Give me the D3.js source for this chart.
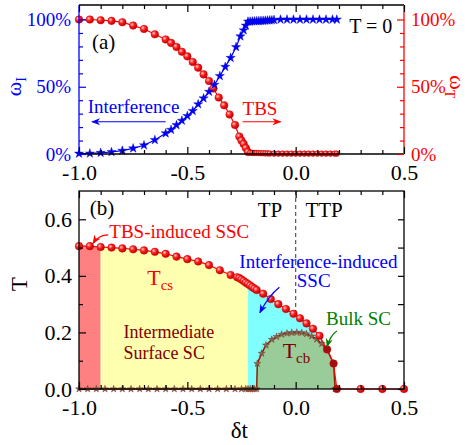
<!DOCTYPE html>
<html>
<head>
<meta charset="utf-8">
<title>Surface / bulk SC phase diagram</title>
<script src="https://d3js.org/d3.v7.min.js"></script>
<style>
body { margin: 0; background: #fff; }
svg text { font-family: "Liberation Serif", "Times New Roman", serif; }
</style>
</head>
<body>
<div id="chart"></div>
<script>
//----------------------------- DATA -----------------------------//
// panel (a): weights at T = 0
const wTdt = [-1.0,-0.95,-0.9,-0.85,-0.8,-0.75,-0.7,-0.65,-0.6,-0.575,-0.55,-0.525,-0.5,-0.475,-0.45,-0.425,-0.4,-0.38,-0.355,-0.33,-0.305,-0.28,-0.26,-0.25,-0.24,-0.23,-0.22,-0.21,-0.2,-0.19,-0.18,-0.17,-0.16,-0.15,-0.14,-0.13,-0.12,-0.1,-0.08,-0.06,-0.04,-0.02,0.0,0.02,0.04,0.06,0.08,0.1,0.12,0.14,0.16,0.18,0.19];
const wT   = [100,100,99.5,99,98,95.5,93,89,85.2,82.6,79.6,76,72.6,68.4,64.2,59.2,54.3,48.7,42,36.2,29.4,21.6,13,10,7.5,4.5,1.5,0.9,0.8,0.8,0.7,0.7,0.6,0.6,0.5,0.5,0.4,0.3,0.3,0.3,0.3,0.3,0.3,0.3,0.3,0.3,0.3,0.3,0.3,0.3,0.3,0.3,0.3];

const wIdt = [-1.0,-0.95,-0.9,-0.85,-0.8,-0.75,-0.7,-0.65,-0.6,-0.575,-0.55,-0.525,-0.5,-0.475,-0.45,-0.425,-0.4,-0.375,-0.35,-0.325,-0.3,-0.275,-0.255,-0.24,-0.23,-0.22,-0.21,-0.2,-0.19,-0.18,-0.17,-0.16,-0.15,-0.14,-0.13,-0.12,-0.11,-0.1,-0.07,-0.04,-0.01,0.02,0.05,0.08,0.11,0.14,0.17,0.19];
const wI   = [0.3,0.4,0.9,1.5,2.5,4.2,6.5,10.4,15.4,18,21.5,24.8,28.3,32,37,41.4,46.3,51.5,58,64.8,71.5,79.5,87.5,92,95.5,98.5,98.5,98.6,98.7,98.8,98.9,99,99.1,99.2,99.3,99.4,99.5,99.7,100,100,100,100,100,100,100,100,100,100];

// panel (b): critical temperatures
const tcsDt = [-1.0,-0.95,-0.9,-0.85,-0.8,-0.75,-0.7,-0.65,-0.6,-0.55,-0.5,-0.45,-0.4,-0.35,-0.3,-0.27,-0.26,-0.25,-0.24,-0.23,-0.22,-0.21,-0.2,-0.19,-0.18,-0.15,-0.115,-0.08,-0.045,-0.01,0.02,0.05,0.08,0.11,0.145,0.175,0.19,0.3,0.4,0.5];
const tcs   = [0.505,0.505,0.502,0.5,0.497,0.494,0.49,0.485,0.478,0.468,0.459,0.451,0.438,0.42,0.403,0.395,0.392,0.387,0.382,0.376,0.371,0.366,0.36,0.355,0.35,0.337,0.318,0.3,0.283,0.266,0.25,0.232,0.213,0.188,0.14,0.09,0,0,0,0];

const tcbDt = [-1.0,-0.96,-0.92,-0.88,-0.84,-0.8,-0.76,-0.72,-0.68,-0.64,-0.6,-0.56,-0.52,-0.48,-0.44,-0.4,-0.36,-0.32,-0.28,-0.25,-0.23,-0.22,-0.21,-0.2,-0.19,-0.18,-0.177,-0.157,-0.137,-0.11,-0.088,-0.065,-0.04,-0.018,0.005,0.028,0.05,0.074,0.097,0.12,0.145,0.175,0.182];
const tcb   = [0,0,0,0,0,0,0,0,0,0,0,0,0,0,0,0,0,0,0,0,0,0,0,0,0,0,0.09,0.126,0.155,0.175,0.185,0.193,0.197,0.199,0.2,0.199,0.195,0.187,0.176,0.16,0.14,0.09,0];

// shaded phase regions (δt boundaries)
const regionX0 = [-1.0, -0.9, -0.22];
const regionX1 = [-0.9, -0.22, 0.2];
const regionColor = ["#ff8080", "#ffffb0", "#80ffff"];

// ticks
const xMajor = [-1.0, -0.5, 0.0, 0.5];
const xMinor = [-0.9,-0.8,-0.7,-0.6,-0.4,-0.3,-0.2,-0.1,0.1,0.2,0.3,0.4];
const pctMajor = [0, 50, 100];
const pctMinor = [10,20,30,40,60,70,80,90];
const tMajor = [0.0, 0.2, 0.4, 0.6];
const tMinor = [0.1, 0.3, 0.5];

//----------------------------- SVG ------------------------------//
const width = 472, height = 445;
const svg = d3.select("#chart").append("svg")
    .attr("width", width).attr("height", height);

const defs = svg.append("defs");
const ball = defs.append("radialGradient").attr("id", "ball")
    .attr("cx", "35%").attr("cy", "35%").attr("r", "65%");
ball.append("stop").attr("offset", "0%").attr("stop-color", "#ffd0d0");
ball.append("stop").attr("offset", "45%").attr("stop-color", "#ff2020");
ball.append("stop").attr("offset", "100%").attr("stop-color", "#c00000");

["red", "blue", "green"].forEach(c => {
    defs.append("marker").attr("id", "arr-" + c)
        .attr("viewBox", "0 0 10 10").attr("refX", 9).attr("refY", 5)
        .attr("markerWidth", 9).attr("markerHeight", 9)
        .attr("markerUnits", "userSpaceOnUse")
        .attr("orient", "auto")
      .append("path").attr("d", "M0,1 L10,5 L0,9 L3,5 Z").attr("fill", c);
});

//---------------------------- SCALES ----------------------------//
const x = d3.scaleLinear().domain([-1.0, 0.5]).range([79, 404]);
const yA = d3.scaleLinear().domain([0, 110.8]).range([154, 5]);
const yB = d3.scaleLinear().domain([0, 0.7]).range([389, 191]);

const fmtX = d => d.toFixed(1);

function ticksX(g, y0, y1, color) {
    // bottom, labelled
    g.append("g").attr("transform", `translate(0,${y0})`)
        .call(d3.axisBottom(x).tickValues(xMajor).tickSizeInner(-7).tickSizeOuter(0)
              .tickPadding(10).tickFormat(fmtX))
        .call(a => a.select(".domain").remove())
        .call(a => a.selectAll("text").attr("font-size", 22).attr("fill", "#000").attr("font-family", null));
    g.append("g").attr("transform", `translate(0,${y0})`)
        .call(d3.axisBottom(x).tickValues(xMinor).tickSizeInner(-4).tickSizeOuter(0).tickFormat(""))
        .call(a => a.select(".domain").remove());
    // top, unlabelled
    g.append("g").attr("transform", `translate(0,${y1})`)
        .call(d3.axisTop(x).tickValues(xMajor).tickSizeInner(-7).tickSizeOuter(0).tickFormat(""))
        .call(a => a.select(".domain").remove());
    g.append("g").attr("transform", `translate(0,${y1})`)
        .call(d3.axisTop(x).tickValues(xMinor).tickSizeInner(-4).tickSizeOuter(0).tickFormat(""))
        .call(a => a.select(".domain").remove());
    g.selectAll(".tick line").attr("stroke", color).attr("stroke-width", 1.2);
}

//--------------------------- PANEL (b) --------------------------//
const gB = svg.append("g");
const tcsPts = tcsDt.map((d, i) => ({dt: d, T: tcs[i]}));
const tcbPts = tcbDt.map((d, i) => ({dt: d, T: tcb[i]}));

const areaB = d3.area().x(d => x(d.dt)).y0(yB(0)).y1(d => yB(d.T));

regionX0.forEach((x0, i) => {
    defs.append("clipPath").attr("id", "reg" + i)
      .append("rect")
        .attr("x", x(x0)).attr("y", yB(0.7))
        .attr("width", x(regionX1[i]) - x(x0)).attr("height", yB(0) - yB(0.7));
    gB.append("path").datum(tcsPts)
        .attr("clip-path", `url(#reg${i})`)
        .attr("fill", regionColor[i])
        .attr("d", areaB);
});

gB.append("path").datum(tcbPts.filter(d => d.dt >= -0.18))
    .attr("fill", "#99cc99")
    .attr("d", areaB);

// TP / TTP divider
gB.append("line")
    .attr("x1", x(0)).attr("x2", x(0))
    .attr("y1", yB(0.7)).attr("y2", yB(0.264))
    .attr("stroke", "#555").attr("stroke-width", 1.2).attr("stroke-dasharray", "4,3");

const lineB = d3.line().x(d => x(d.dt)).y(d => yB(d.T));

// Tcb
gB.append("path").datum(tcbPts)
    .attr("fill", "none").attr("stroke", "#8b2000").attr("stroke-width", 1.5)
    .attr("d", lineB);
gB.selectAll(".tcb").data(tcbPts).enter().append("path")
    .attr("class", "tcb")
    .attr("transform", d => `translate(${x(d.dt)},${yB(d.T)})`)
    .attr("d", d3.symbol(d3.symbolStar, 16))
    .attr("fill", "#7a6a60").attr("stroke", "#8b2000").attr("stroke-width", 0.4);

// Tcs
gB.append("path").datum(tcsPts)
    .attr("fill", "none").attr("stroke", "#ff0000").attr("stroke-width", 1.2)
    .attr("d", lineB);
gB.selectAll(".tcs").data(tcsPts).enter().append("circle")
    .attr("class", "tcs")
    .attr("cx", d => x(d.dt)).attr("cy", d => yB(d.T)).attr("r", 3.8)
    .attr("fill", d => d.dt > 0.14 && d.dt < 0.2 ? "#a01010" : "url(#ball)")
    .attr("stroke", "#d00000").attr("stroke-width", 0.5);

// frame
gB.append("rect")
    .attr("x", x(-1)).attr("y", yB(0.7))
    .attr("width", x(0.5) - x(-1)).attr("height", yB(0) - yB(0.7))
    .attr("fill", "none").attr("stroke", "#000").attr("stroke-width", 1.3);

ticksX(gB, yB(0), yB(0.7), "#000");

gB.append("g").attr("transform", `translate(${x(-1)},0)`)
    .call(d3.axisLeft(yB).tickValues(tMajor).tickSizeInner(-7).tickSizeOuter(0)
          .tickPadding(7).tickFormat(d => d.toFixed(1)))
    .call(a => a.select(".domain").remove())
    .call(a => a.selectAll("text").attr("font-size", 22).attr("font-family", null));
gB.append("g").attr("transform", `translate(${x(-1)},0)`)
    .call(d3.axisLeft(yB).tickValues(tMinor).tickSizeInner(-4).tickSizeOuter(0).tickFormat(""))
    .call(a => a.select(".domain").remove());
gB.append("g").attr("transform", `translate(${x(0.5)},0)`)
    .call(d3.axisRight(yB).tickValues(tMajor.concat(tMinor)).tickSizeInner(-6).tickSizeOuter(0).tickFormat(""))
    .call(a => a.select(".domain").remove());
gB.selectAll(".tick line").attr("stroke-width", 1.2);

// labels (b)
gB.append("text").attr("x", x(-0.95)).attr("y", yB(0.615)).attr("font-size", 21).text("(b)");
gB.append("text").attr("x", x(-0.86)).attr("y", yB(0.535)).attr("font-size", 19)
    .attr("fill", "#ff0000").text("TBS-induced SSC");
gB.append("path")
    .attr("d", `M${x(-0.865)},${yB(0.545)} Q${x(-0.91)},${yB(0.545)} ${x(-0.935)},${yB(0.515)}`)
    .attr("fill", "none").attr("stroke", "#ff0000").attr("stroke-width", 1.2)
    .attr("marker-end", "url(#arr-red)");

const tcsLab = gB.append("text").attr("x", x(-0.685)).attr("y", yB(0.366))
    .attr("font-size", 22).attr("fill", "#ff0000");
tcsLab.append("tspan").text("T");
tcsLab.append("tspan").attr("font-size", 15).attr("dy", 5).text("cs");

gB.append("text").attr("x", x(-0.795)).attr("y", yB(0.18)).attr("font-size", 18)
    .attr("fill", "#800000").text("Intermediate");
gB.append("text").attr("x", x(-0.795)).attr("y", yB(0.105)).attr("font-size", 18)
    .attr("fill", "#800000").text("Surface SC");

gB.append("text").attr("x", x(-0.175)).attr("y", yB(0.607)).attr("font-size", 21).text("TP");
gB.append("text").attr("x", x(0.045)).attr("y", yB(0.607)).attr("font-size", 21).text("TTP");

gB.append("text").attr("x", x(-0.26)).attr("y", yB(0.427)).attr("font-size", 19)
    .attr("fill", "#0000ff").text("Interference-induced");
gB.append("text").attr("x", x(0.005)).attr("y", yB(0.36)).attr("font-size", 19)
    .attr("fill", "#0000ff").text("SSC");
gB.append("path")
    .attr("d", `M${x(-0.075)},${yB(0.36)} Q${x(-0.125)},${yB(0.33)} ${x(-0.165)},${yB(0.27)}`)
    .attr("fill", "none").attr("stroke", "#0000ff").attr("stroke-width", 1.2)
    .attr("marker-end", "url(#arr-blue)");

gB.append("text").attr("x", x(0.14)).attr("y", yB(0.226)).attr("font-size", 19)
    .attr("fill", "#008000").text("Bulk SC");
gB.append("path")
    .attr("d", `M${x(0.19)},${yB(0.205)} Q${x(0.16)},${yB(0.19)} ${x(0.145)},${yB(0.15)}`)
    .attr("fill", "none").attr("stroke", "#008000").attr("stroke-width", 1.2)
    .attr("marker-end", "url(#arr-green)");

const tcbLab = gB.append("text").attr("x", x(-0.06)).attr("y", yB(0.11))
    .attr("font-size", 22).attr("fill", "#800000");
tcbLab.append("tspan").text("T");
tcbLab.append("tspan").attr("font-size", 15).attr("dy", 5).text("cb");

svg.append("text")
    .attr("transform", `translate(27,${yB(0.37)}) rotate(-90)`)
    .attr("text-anchor", "middle").attr("font-size", 23).text("T");
svg.append("text")
    .attr("x", x(-0.26)).attr("y", 438)
    .attr("text-anchor", "middle").attr("font-size", 23).text("δt");

//--------------------------- PANEL (a) --------------------------//
const gA = svg.append("g");
const wTPts = wTdt.map((d, i) => ({dt: d, w: wT[i]}));
const wIPts = wIdt.map((d, i) => ({dt: d, w: wI[i]}));
const lineA = d3.line().x(d => x(d.dt)).y(d => yA(d.w));

gA.append("path").datum(wTPts)
    .attr("fill", "none").attr("stroke", "#ff0000").attr("stroke-width", 1.2)
    .attr("d", lineA);
gA.append("path").datum(wIPts)
    .attr("fill", "none").attr("stroke", "#0000ff").attr("stroke-width", 1.2)
    .attr("d", lineA);

gA.selectAll(".wt").data(wTPts).enter().append("circle")
    .attr("class", "wt")
    .attr("cx", d => x(d.dt)).attr("cy", d => yA(d.w))
    .attr("r", d => d.w < 1 ? 2.8 : 3.8)
    .attr("fill", "url(#ball)").attr("stroke", "#d00000").attr("stroke-width", 0.5);
gA.selectAll(".wi").data(wIPts).enter().append("path")
    .attr("class", "wi")
    .attr("transform", d => `translate(${x(d.dt)},${yA(d.w)})`)
    .attr("d", d3.symbol(d3.symbolStar, 26))
    .attr("fill", "#0000ff").attr("stroke", "#0000cc").attr("stroke-width", 0.4);

// frame: left blue, right red, top/bottom black
gA.append("line").attr("x1", x(-1)).attr("x2", x(0.5)).attr("y1", yA(110.8)).attr("y2", yA(110.8))
    .attr("stroke", "#000").attr("stroke-width", 1.3);
gA.append("line").attr("x1", x(-1)).attr("x2", x(0.5)).attr("y1", yA(0)).attr("y2", yA(0))
    .attr("stroke", "#000").attr("stroke-width", 1.3);
gA.append("line").attr("x1", x(-1)).attr("x2", x(-1)).attr("y1", yA(0)).attr("y2", yA(110.8))
    .attr("stroke", "#0000ff").attr("stroke-width", 1.3);
gA.append("line").attr("x1", x(0.5)).attr("x2", x(0.5)).attr("y1", yA(0)).attr("y2", yA(110.8))
    .attr("stroke", "#ff0000").attr("stroke-width", 1.3);

ticksX(gA, yA(0), yA(110.8), "#000");

const fmtPct = d => d + "%";
gA.append("g").attr("transform", `translate(${x(-1)},0)`)
    .call(d3.axisLeft(yA).tickValues(pctMajor).tickSizeInner(-7).tickSizeOuter(0)
          .tickPadding(8).tickFormat(fmtPct))
    .call(a => a.select(".domain").remove())
    .call(a => a.selectAll("text").attr("font-size", 19).attr("fill", "#0000ff").attr("font-family", null))
    .call(a => a.selectAll("line").attr("stroke", "#0000ff"));
gA.append("g").attr("transform", `translate(${x(-1)},0)`)
    .call(d3.axisLeft(yA).tickValues(pctMinor).tickSizeInner(-4).tickSizeOuter(0).tickFormat(""))
    .call(a => a.select(".domain").remove())
    .call(a => a.selectAll("line").attr("stroke", "#0000ff"));
gA.append("g").attr("transform", `translate(${x(0.5)},0)`)
    .call(d3.axisRight(yA).tickValues(pctMajor).tickSizeInner(-7).tickSizeOuter(0)
          .tickPadding(7).tickFormat(fmtPct))
    .call(a => a.select(".domain").remove())
    .call(a => a.selectAll("text").attr("font-size", 19).attr("fill", "#ff0000").attr("font-family", null))
    .call(a => a.selectAll("line").attr("stroke", "#ff0000"));
gA.append("g").attr("transform", `translate(${x(0.5)},0)`)
    .call(d3.axisRight(yA).tickValues(pctMinor).tickSizeInner(-4).tickSizeOuter(0).tickFormat(""))
    .call(a => a.select(".domain").remove())
    .call(a => a.selectAll("line").attr("stroke", "#ff0000"));
gA.selectAll(".tick line").attr("stroke-width", 1.2);

// labels (a)
gA.append("text").attr("x", x(-0.94)).attr("y", yA(78)).attr("font-size", 21).text("(a)");
gA.append("text").attr("x", x(0.247)).attr("y", yA(90)).attr("font-size", 20).text("T = 0");
gA.append("text").attr("x", x(-0.96)).attr("y", yA(30.5)).attr("font-size", 19)
    .attr("fill", "#0000ff").text("Interference");
gA.append("line").attr("x1", x(-0.6)).attr("x2", x(-0.94))
    .attr("y1", yA(24)).attr("y2", yA(24))
    .attr("stroke", "#0000ff").attr("stroke-width", 1.2).attr("marker-end", "url(#arr-blue)");
gA.append("text").attr("x", x(-0.245)).attr("y", yA(29)).attr("font-size", 19)
    .attr("fill", "#ff0000").text("TBS");
gA.append("line").attr("x1", x(-0.245)).attr("x2", x(-0.07))
    .attr("y1", yA(24)).attr("y2", yA(24))
    .attr("stroke", "#ff0000").attr("stroke-width", 1.2).attr("marker-end", "url(#arr-red)");

const lblI = svg.append("text")
    .attr("transform", `translate(21,${yA(50)}) rotate(-90)`)
    .attr("text-anchor", "middle").attr("font-size", 22).attr("fill", "#0000ff");
lblI.append("tspan").text("ω");
lblI.append("tspan").attr("font-size", 14).attr("dy", 5).text("I");

const lblT = svg.append("text")
    .attr("transform", `translate(450,${yA(50)}) rotate(90)`)
    .attr("text-anchor", "middle").attr("font-size", 22).attr("fill", "#ff0000");
lblT.append("tspan").text("ω");
lblT.append("tspan").attr("font-size", 14).attr("dy", 5).text("T");
</script>
</body>
</html>
